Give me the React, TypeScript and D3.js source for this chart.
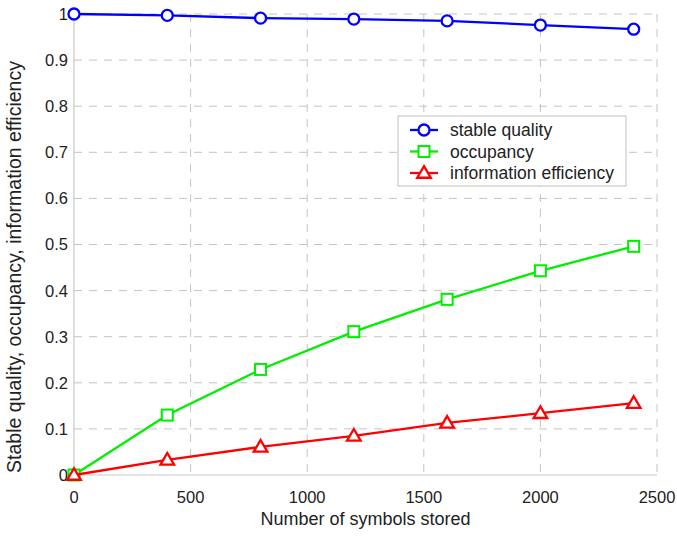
import React from "react";
import * as d3 from "d3";

const symbols = [0, 400, 800, 1200, 1600, 2000, 2400];
const stableQuality = [1.0, 0.997, 0.991, 0.989, 0.985, 0.976, 0.967];
const occupancy = [0.0, 0.13, 0.229, 0.311, 0.381, 0.443, 0.496];
const infoEfficiency = [0.0, 0.033, 0.061, 0.085, 0.113, 0.134, 0.156];
const xTicks = [0, 500, 1000, 1500, 2000, 2500];
const yTicks = [0, 0.1, 0.2, 0.3, 0.4, 0.5, 0.6, 0.7, 0.8, 0.9, 1];
const seriesNames = ["stable quality", "occupancy", "information efficiency"];

const W = 677;
const H = 536;
const left = 74;
const right = 657;
const top = 14;
const bottom = 475;
const FONT = "Liberation Sans, Arial, sans-serif";
const colors = ["#0000ff", "#00ee00", "#ff0000"];
const shapes = ["circle", "square", "triangle"];

function Marker({ shape, x, y, color }: { shape: string; x: number; y: number; color: string }) {
  if (shape === "circle")
    return <circle cx={x} cy={y} r={5.5} fill="white" stroke={color} strokeWidth={2.3} />;
  if (shape === "square")
    return <rect x={x - 5.5} y={y - 5.5} width={11} height={11} fill="white" stroke={color} strokeWidth={2} />;
  const s = 6.8;
  return (
    <path
      d={`M${x},${y - s} L${x + s},${y + s * 0.7} L${x - s},${y + s * 0.7} Z`}
      fill="white"
      stroke={color}
      strokeWidth={2.3}
    />
  );
}

export default function App() {
  const x = d3.scaleLinear().domain([0, 2500]).range([left, right]);
  const y = d3.scaleLinear().domain([0, 1]).range([bottom, top]);
  const series = [stableQuality, occupancy, infoEfficiency];
  const line = d3
    .line<number>()
    .x((_, i) => x(symbols[i]))
    .y((d) => y(d));

  const legX = 398;
  const legY = 116;

  return (
    <svg width={W} height={H} style={{ position: "absolute", left: 0, top: 0, background: "white" }}>
      {/* dashed grid */}
      {xTicks.filter((t) => t > 0).map((t) => (
        <line key={"gx" + t} x1={x(t)} x2={x(t)} y1={top} y2={bottom} stroke="#c4c4c4" strokeWidth={1} strokeDasharray="8,7" />
      ))}
      {yTicks.filter((t) => t > 0).map((t) => (
        <line key={"gy" + t} x1={left} x2={right} y1={y(t)} y2={y(t)} stroke="#c4c4c4" strokeWidth={1} strokeDasharray="8,7" />
      ))}
      {/* axes */}
      <line x1={left} x2={left} y1={top} y2={bottom} stroke="#c8c8c8" strokeWidth={1.2} />
      <line x1={left} x2={right} y1={bottom} y2={bottom} stroke="#c8c8c8" strokeWidth={1.2} />

      {/* tick labels */}
      {yTicks.map((t) => (
        <text key={"ty" + t} x={left - 6} y={y(t)} dy="0.36em" textAnchor="end" fontFamily={FONT} fontSize={16.5} fill="#222">
          {d3.format("~g")(t)}
        </text>
      ))}
      {xTicks.map((t) => (
        <text key={"tx" + t} x={x(t)} y={503} textAnchor="middle" fontFamily={FONT} fontSize={16.5} fill="#222">
          {t}
        </text>
      ))}

      {/* axis titles */}
      <text x={(left + right) / 2} y={525} textAnchor="middle" fontFamily={FONT} fontSize={18} fill="#222">
        Number of symbols stored
      </text>
      <text
        transform={`translate(21,267) rotate(-90)`}
        textAnchor="middle"
        fontFamily={FONT}
        fontSize={19.5}
        fill="#222"
      >
        Stable quality, occupancy, information efficiency
      </text>

      {/* series */}
      {series.map((vals, si) => (
        <g key={"s" + si}>
          <path d={line(vals) || ""} fill="none" stroke={colors[si]} strokeWidth={2.3} />
          {vals.map((v, i) => (
            <Marker key={i} shape={shapes[si]} x={x(symbols[i])} y={y(v)} color={colors[si]} />
          ))}
        </g>
      ))}

      {/* legend */}
      <rect x={legX} y={legY} width={228} height={70} fill="white" stroke="#c0c0c0" strokeWidth={1} />
      {seriesNames.map((name, i) => {
        const cy = legY + 14 + i * 21.5;
        return (
          <g key={name}>
            <line x1={legX + 12} x2={legX + 40} y1={cy} y2={cy} stroke={colors[i]} strokeWidth={2.3} />
            <Marker shape={shapes[i]} x={legX + 26} y={cy} color={colors[i]} />
            <text x={legX + 52} y={cy} dy="0.36em" fontFamily={FONT} fontSize={17.5} fill="#222">
              {name}
            </text>
          </g>
        );
      })}
    </svg>
  );
}
